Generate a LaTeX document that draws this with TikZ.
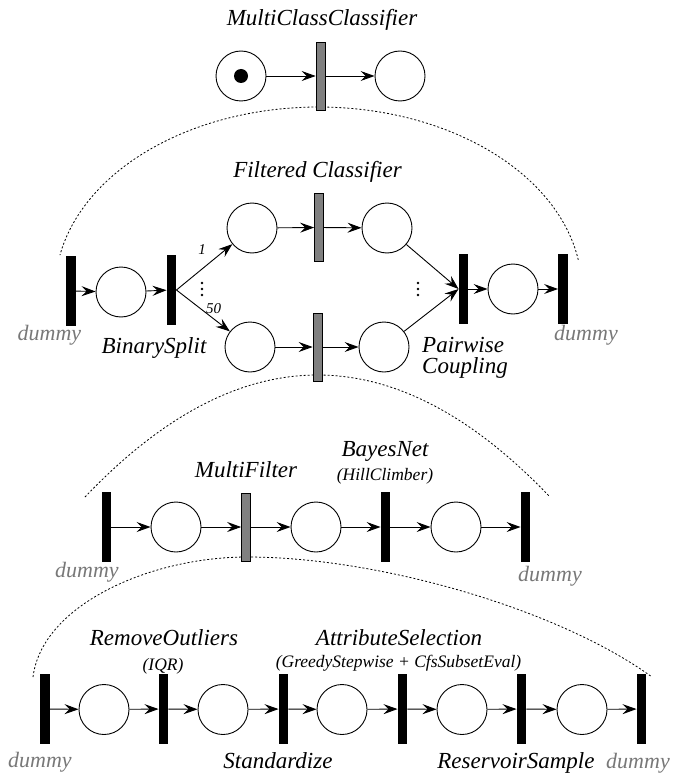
\documentclass[tikz,border=0pt]{standalone}
\usepackage{fontspec}
\setmainfont{Liberation Serif}[ItalicFont={Liberation Serif Italic}]
\usetikzlibrary{arrows.meta}
\definecolor{tgray}{gray}{0.5}
\definecolor{dgray}{gray}{0.47}
\tikzset{
  place/.style={circle,draw,line width=0.9pt,minimum size=50pt,inner sep=0pt},
  token/.style={circle,fill=black,minimum size=14pt,inner sep=0pt},
  bar/.style={rectangle,fill=black,minimum width=9.5pt,minimum height=70pt,inner sep=0pt},
  gbar/.style={rectangle,fill=tgray,draw=black,line width=0.7pt,minimum width=9pt,minimum height=68pt,inner sep=0pt},
  flow/.style={line width=0.9pt,-{Stealth[length=14pt,width=10pt,inset=5pt]}},
  lbl/.style={font=\fontsize{23}{23}\selectfont\itshape,anchor=base,inner sep=0pt},
  sublbl/.style={font=\fontsize{17.5}{17.5}\selectfont\itshape,anchor=base,inner sep=0pt},
  numlbl/.style={font=\fontsize{15}{15}\selectfont\itshape,anchor=base,inner sep=0pt},
  dumlbl/.style={font=\fontsize{22}{22}\selectfont\itshape,anchor=base,inner sep=0pt,text=dgray},
  refine/.style={line width=0.8pt,dash pattern=on 2pt off 2pt},
  ellip/.style={fill=black},
}
\begin{document}
\begin{tikzpicture}[x=1pt,y=-1pt]
\useasboundingbox (0,0) rectangle (674,778);

% refinement arcs (drawn first so the transitions cover them)
\draw[refine] plot[domain=9.5:169,samples=80,smooth] ({318.5+263.4*cos(\x)},{290-183*sin(\x)});
\draw[refine] plot[domain=-1:1,samples=60,smooth] ({317.5+232.5*\x},{375+122*\x*\x});
\draw[refine] (33,677) .. controls (42,605) and (150,557) .. (247,557)
              .. controls (380,557) and (560,610) .. (652,677);

% level 1: MultiClassClassifier
\node[place] (m1) at (241,76) {};
\node[token] (tok) at (m1) {};
\node[gbar] (mcc) at (320.5,76) {};
\node[place] (m2) at (400,76) {};
\draw[flow] (m1) -- (mcc);
\draw[flow] (mcc) -- (m2);
\node[lbl] (tmcc) at (322,26) {MultiClassClassifier};

% level 2: BinarySplit / FilteredClassifier / PairwiseCoupling
\node[bar] (d1) at (71,291) {};
\node[place] (f1) at (121,292) {};
\node[bar] (bs) at (171.5,290) {};
\node[place] (u1) at (252,228) {};
\node[gbar] (fcu) at (319,227.5) {};
\node[place] (u2) at (387,228) {};
\node[place] (l1) at (250,347) {};
\node[gbar] (fcl) at (317.5,347) {};
\node[place] (l2) at (384,347) {};
\node[bar] (pc) at (463.5,289) {};
\node[place] (f2) at (513,289) {};
\node[bar] (d2) at (563,289) {};
\draw[flow] (d1) -- (f1);
\draw[flow] (f1) -- (bs);
\draw[flow] (bs.east) -- (u1);
\draw[flow] (bs.east) -- (l1);
\draw[flow] (u1) -- (fcu);
\draw[flow] (fcu) -- (u2);
\draw[flow] (l1) -- (fcl);
\draw[flow] (fcl) -- (l2);
\draw[flow] (u2) -- (pc.west);
\draw[flow] (l2) -- (pc.west);
\draw[flow] (pc) -- (f2);
\draw[flow] (f2) -- (d2);
\foreach \yy in {283,289,295} {
  \fill[ellip] (202,\yy) circle (1.3pt);
  \fill[ellip] (418,\yy) circle (1.3pt);
}
\node[lbl] (tfc) at (317.5,178) {Filtered Classifier};
\node[numlbl] (n1) at (202,254) {1};
\node[numlbl] (n50) at (213.5,313) {50};
\node[lbl] (tbs) at (154,353) {BinarySplit};
\node[lbl,anchor=base west] (tpc1) at (422,352) {Pairwise};
\node[lbl,anchor=base west] (tpc2) at (422,373) {Coupling};
\node[dumlbl] (td1) at (49.5,340) {dummy};
\node[dumlbl] (td2) at (586,340) {dummy};

% level 3: MultiFilter / BayesNet
\node[bar] (e1) at (106.5,527) {};
\node[place] (g1) at (176,527) {};
\node[gbar] (mf) at (246,527) {};
\node[place] (g2) at (316,527) {};
\node[bar] (bn) at (385.5,527) {};
\node[place] (g3) at (456,527) {};
\node[bar] (e2) at (525.5,527) {};
\draw[flow] (e1) -- (g1);
\draw[flow] (g1) -- (mf);
\draw[flow] (mf) -- (g2);
\draw[flow] (g2) -- (bn);
\draw[flow] (bn) -- (g3);
\draw[flow] (g3) -- (e2);
\node[lbl] (tmf) at (246,477) {MultiFilter};
\node[lbl] (tbn) at (385,456) {BayesNet};
\node[sublbl] (thc) at (385,480) {(HillClimber)};
\node[dumlbl] (te1) at (87,577) {dummy};
\node[dumlbl] (te2) at (550,581) {dummy};

% level 4: preprocessing chain
\node[bar] (k1) at (45,709) {};
\node[place] (h1) at (104,709.5) {};
\node[bar] (ro) at (163.5,709) {};
\node[place] (h2) at (223,709.5) {};
\node[bar] (st) at (283.5,709) {};
\node[place] (h3) at (342,709.5) {};
\node[bar] (as) at (402.5,709) {};
\node[place] (h4) at (462,709.5) {};
\node[bar] (rs) at (521.5,709) {};
\node[place] (h5) at (582,709.5) {};
\node[bar] (k2) at (641.5,709) {};
\draw[flow] (k1) -- (h1);
\draw[flow] (h1) -- (ro);
\draw[flow] (ro) -- (h2);
\draw[flow] (h2) -- (st);
\draw[flow] (st) -- (h3);
\draw[flow] (h3) -- (as);
\draw[flow] (as) -- (h4);
\draw[flow] (h4) -- (rs);
\draw[flow] (rs) -- (h5);
\draw[flow] (h5) -- (k2);
\node[lbl] (tro) at (164,645) {RemoveOutliers};
\node[sublbl] (tiqr) at (163,670) {(IQR)};
\node[lbl] (tas) at (399,645) {AttributeSelection};
\node[sublbl] (tgs) at (398.5,667) {(GreedyStepwise + CfsSubsetEval)};
\node[lbl] (tst) at (278,768) {Standardize};
\node[lbl] (trs) at (516,768) {ReservoirSample};
\node[dumlbl] (tk1) at (40,767) {dummy};
\node[dumlbl] (tk2) at (638,768) {dummy};
\end{tikzpicture}
\end{document}
